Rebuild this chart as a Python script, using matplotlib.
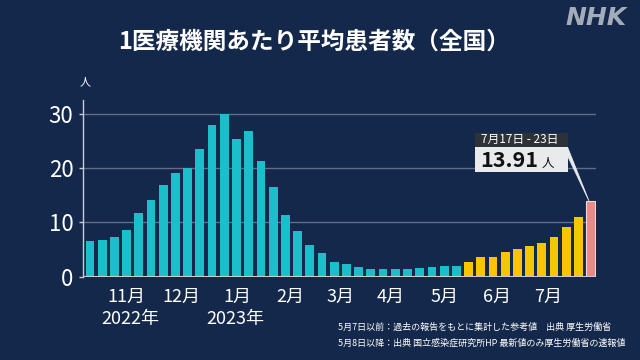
import matplotlib.pyplot as plt
from matplotlib.patches import Rectangle, Polygon

plt.rcParams['font.family'] = ['Noto Sans CJK JP', 'DejaVu Sans']

# weekly values (Oct 2022 - Jul 2023)
teal_vals = [6.6, 6.8, 7.3, 8.7, 11.8, 14.2, 16.9, 19.1, 20.0, 23.5,
             27.9, 30.0, 25.4, 26.9, 21.3, 16.6, 11.4, 8.4, 5.9, 4.3,
             2.8, 2.3, 1.85, 1.5, 1.4, 1.35, 1.5, 1.55, 1.85, 1.9, 2.0]
yellow_vals = [2.63, 3.63, 3.56, 4.55, 5.11, 5.60, 6.13, 7.24, 9.14, 11.04]
latest_val = 13.91
latest_label = "7月17日 - 23日"

month_pos = [3.0, 7.5, 12.1, 16.4, 20.5, 24.6, 29.0, 33.3, 37.5]
month_labels = ["11月", "12月", "1月", "2月", "3月", "4月", "5月", "6月", "7月"]
year_pos = [3.3, 11.9]
year_labels = ["2022年", "2023年"]

BG = "#13284a"
TEAL = "#1bbfcc"
YELLOW = "#f7c600"
PINK = "#ea8a88"
GRID = "#5e6f88"

fig = plt.figure(figsize=(6.4, 3.6), dpi=100, facecolor=BG)
ax = fig.add_axes([0.130, 0.2314, 0.802, 0.4908])
ax.set_facecolor(BG)

n_t = len(teal_vals)
n_y = len(yellow_vals)
x_t = list(range(n_t))
x_y = list(range(n_t, n_t + n_y))
x_l = n_t + n_y

w = 0.72
ax.bar(x_t, teal_vals, width=w, color=TEAL, zorder=3)
ax.bar(x_y, yellow_vals, width=w, color=YELLOW, zorder=3)
ax.bar([x_l], [latest_val], width=w, color=PINK, edgecolor="#f3d6d6",
       linewidth=0.8, zorder=3)

ax.set_xlim(-0.55, 41.47)
ax.set_ylim(0, 32.6)
ax.set_yticks([0, 10, 20, 30])
ax.yaxis.grid(True, color=GRID, linewidth=1.0, zorder=0)
ax.tick_params(axis="y", colors="white", labelsize=16, length=3, width=1,
               pad=4, color="#c8ccd4")
ax.set_xticks([])
for s in ["top", "right", "bottom"]:
    ax.spines[s].set_visible(False)
ax.spines["left"].set_color("#c8ccd4")
ax.spines["left"].set_linewidth(1.0)
ax.axhline(0, color="#c8ccd4", linewidth=1.5, zorder=4)

# month / year labels
for p, lab in zip(month_pos, month_labels):
    ax.text(p, -2.1, lab, ha="center", va="top", color="white", fontsize=13)
for p, lab in zip(year_pos, year_labels):
    ax.text(p, -6.1, lab, ha="center", va="top", color="white", fontsize=13)

# unit
fig.text(0.133, 0.772, "人", ha="center", va="center", color="white", fontsize=8)

# annotation box for latest week
hx0, hx1 = 31.5, 39.1
ax.add_patch(Rectangle((hx0, 23.97), hx1 - hx0, 2.6, facecolor="#2c3238",
                       edgecolor="none", clip_on=False, zorder=6))
ax.add_patch(Rectangle((hx0, 19.35), hx1 - hx0, 4.62, facecolor="#e8eaec",
                       edgecolor="none", clip_on=False, zorder=6))
ax.add_patch(Polygon([(hx1, 23.9), (hx1, 22.3), (x_l - 0.15, latest_val + 0.1)],
                     closed=True, facecolor="#e8eaec", edgecolor="#e8eaec",
                     linewidth=0.6, clip_on=False, zorder=5))
ax.text(hx0 + 0.55, 25.25, latest_label, ha="left", va="center",
        color="white", fontsize=8.5, zorder=7)
ax.text(hx0 + 0.45, 21.5, f"{latest_val:.2f}", ha="left", va="center",
        color="#111111", fontsize=15.5, fontweight="bold", zorder=7)
ax.text(37.0, 20.9, "人", ha="left", va="center",
        color="#111111", fontsize=9, zorder=7)

# title and logo
fig.text(0.49, 0.885, "1医療機関あたり平均患者数（全国）", ha="center", va="center",
         color="white", fontsize=17, fontweight="bold")
fig.text(0.932, 0.95, "NHK", ha="center", va="center", color="#a3acb9",
         fontsize=18, fontweight="bold", style="italic", family="DejaVu Sans")

# source notes
fig.text(0.528, 0.092, "5月7日以前：過去の報告をもとに集計した参考値　出典 厚生労働省",
         ha="left", va="center", color="white", fontsize=6.5)
fig.text(0.528, 0.047, "5月8日以降：出典 国立感染症研究所HP 最新値のみ厚生労働省の速報値",
         ha="left", va="center", color="white", fontsize=6.5)

fig.savefig("out.png", dpi=100, facecolor=BG)
